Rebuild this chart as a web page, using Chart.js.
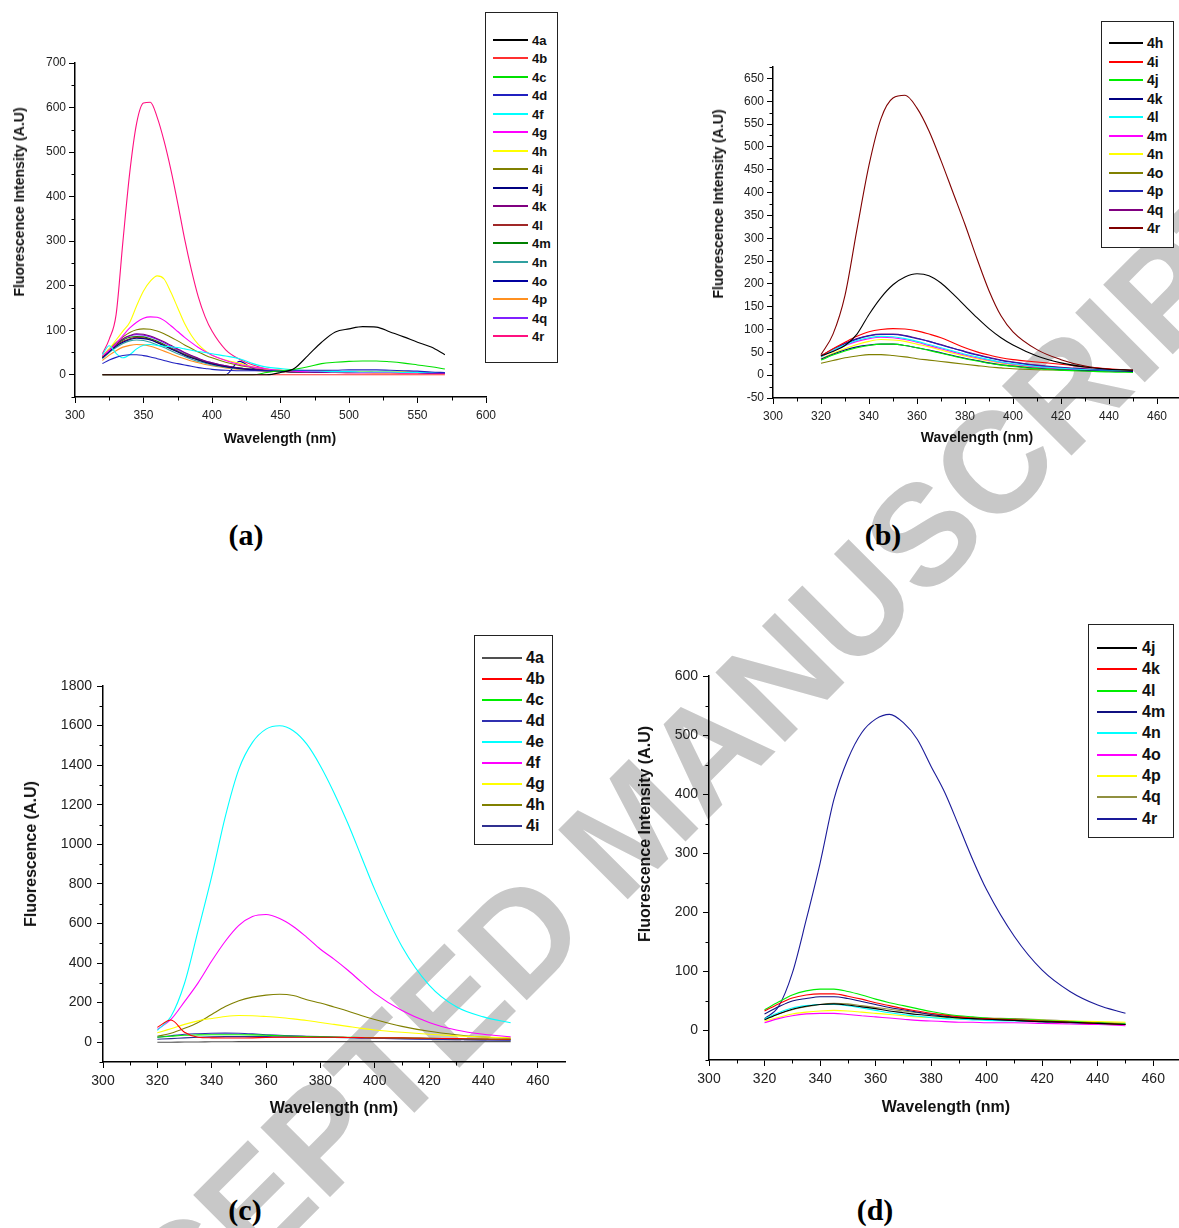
<!DOCTYPE html>
<html><head><meta charset="utf-8">
<script src="https://cdn.jsdelivr.net/npm/chart.js@4.4.1/dist/chart.umd.min.js"></script>
<style>
html,body{margin:0;padding:0;background:#fff;}
body{width:1179px;height:1228px;overflow:hidden;position:relative;font-family:'Liberation Sans',Arial,sans-serif;}
#wm{position:absolute;left:631px;top:826px;transform:translate(-50%,-50%) rotate(-45deg);font:bold 143px 'Liberation Sans',Arial,sans-serif;color:#c8c8c8;white-space:nowrap;z-index:0;line-height:1;}
canvas{position:absolute;z-index:1;}
.t{position:absolute;z-index:2;white-space:nowrap;font-weight:bold;color:#111;line-height:1;transform:translate(-50%,-50%);}
.yt{transform:translate(-50%,-50%) rotate(-90deg);}
.lg{position:absolute;z-index:3;border:1px solid #222;background:#fff;box-sizing:border-box;}
.ll{position:absolute;height:2px;}
.lt{position:absolute;font-weight:bold;line-height:1;transform:translateY(-50%);color:#111;white-space:nowrap;}
.pl{position:absolute;z-index:2;font:bold 30px 'Liberation Serif','Times New Roman',serif;transform:translate(-50%,-50%);line-height:1;white-space:nowrap;}
</style></head><body>
<div id="wm">ACCEPTED MANUSCRIPT</div>
<script>
// ---------------- DATA ----------------
const wlA = [320,325,330,335,340,345,350,355,360,365,370,375,380,385,390,395,400,410,420,430,440,450,460,470,480,490,500,510,520,530,540,550,560,570];
const namesA = ['4a','4b','4c','4d','4f','4g','4h','4i','4j','4k','4l','4m','4n','4o','4p','4q','4r'];
const a4a = [0,0,0,0,0,0,0,0,0,0,0,0,0,0,0,0,0,0,0,0,0,5,14,43,73,96,103,108,107,96,85,73,62,45];
const a4b = [0,0,0,0,0,0,0,0,0,0,0,0,0,0,0,0,0,0,0,0,0,0,0,0,0,0,0,0,0,0,0,0,0,0];
const a4c = [0,0,0,0,0,0,0,0,0,0,0,0,0,0,0,0,0,0,0,0,5,9,12,18,25,28,30,31,31,29,26,22,18,13];
const a4d = [25,33,39,43,45,45,43,40,36,32,28,25,22,19,16,14,12,10,9,9,9,9,10,10,10,10,11,11,11,10,9,8,6,5];
const a4f = [45,65,48,38,45,58,66,68,66,64,63,61,58,55,52,50,47,42,36,25,17,14,11,9,8,7,7,6,6,6,5,5,5,5];
const a4g = [42,55,70,88,105,118,127,130,129,122,110,97,84,72,61,52,44,32,23,17,13,10,8,7,7,6,6,5,5,5,4,4,4,4];
const a4h = [42,58,78,98,118,155,188,210,222,215,185,150,115,88,68,54,44,33,26,18,13,10,9,8,8,7,7,7,6,6,6,5,5,5];
const a4i = [42,58,72,85,95,101,103,102,98,92,84,76,67,59,51,44,38,28,21,16,12,10,9,8,8,7,7,7,6,6,6,5,5,5];
const a4j = [38,52,64,73,79,82,81,78,72,65,58,51,44,38,33,28,24,18,14,11,9,8,7,7,6,6,6,6,5,5,5,5,4,4];
const a4k = [40,56,70,81,88,92,91,87,81,74,66,58,50,43,37,31,27,20,15,12,10,8,7,7,6,6,6,6,5,5,5,5,4,4];
const a4l = [38,53,66,75,81,84,83,79,73,66,59,52,45,39,33,29,25,19,14,11,9,8,7,7,6,6,6,6,5,5,5,5,4,4];
const a4m = [40,55,68,78,84,86,85,81,75,68,60,53,46,40,34,29,25,19,15,12,10,8,7,7,6,6,6,6,5,5,5,5,4,4];
const a4n = [36,50,61,70,76,78,77,73,67,61,54,47,41,35,30,26,22,17,13,10,9,8,7,7,6,6,6,6,5,5,5,5,4,4];
const a4o = [0,0,0,0,0,0,0,0,0,0,0,0,0,0,0,0,0,0,30,14,10,8,7,7,6,6,6,6,5,5,5,5,4,4];
const a4p = [32,44,54,62,66,68,67,64,59,53,47,41,36,31,27,23,20,15,12,10,8,7,6,6,5,5,5,5,4,4,4,3,3,3];
const a4q = [40,55,69,80,87,90,89,85,79,72,64,56,49,42,36,31,27,20,15,12,10,8,7,7,6,6,6,6,5,5,5,5,4,4];
const a4r = [47,80,135,300,455,565,610,612,578,525,460,385,305,235,175,130,98,56,35,22,13,8,6,5,5,5,4,4,4,4,3,3,3,3];

const wl = [320,325,330,335,340,345,350,355,360,365,370,375,380,385,390,395,400,410,420,430,440,450];

const namesB = ['4h','4i','4j','4k','4l','4m','4n','4o','4p','4q','4r'];
const b4h = [42,52,65,90,133,170,198,215,222,218,202,178,152,126,102,82,66,42,27,18,13,11];
const b4i = [42,58,72,85,95,100,102,101,97,90,82,71,60,51,44,38,34,29,24,18,14,11];
const b4j = [33,44,53,60,65,68,68,65,60,54,48,42,36,31,26,22,19,14,11,9,7,6];
const b4k = [35,46,55,62,66,68,68,65,60,55,49,43,37,32,27,23,20,15,12,10,9,8];
const b4l = [40,55,66,76,82,85,84,80,74,67,60,53,46,40,34,29,25,19,15,12,10,9];
const b4m = [40,54,65,74,80,83,82,78,72,65,58,51,44,38,33,28,24,18,14,11,9,8];
const b4n = [36,48,58,67,74,78,77,74,68,62,55,48,42,36,31,26,22,17,13,11,9,8];
const b4o = [26,32,38,42,45,45,43,40,36,33,30,27,24,21,18,16,14,12,11,10,10,10];
const b4p = [42,57,69,79,86,89,89,86,80,74,66,59,51,44,38,32,28,21,16,13,11,10];
const b4q = [42,57,70,80,87,90,90,87,81,74,67,59,52,45,39,33,29,22,17,14,11,10];
const b4r = [45,90,175,320,460,562,607,613,585,535,470,400,330,255,185,130,95,56,34,20,13,9];

const namesC = ['4a','4b','4c','4d','4e','4f','4g','4h','4i'];
const c4a = [0,0,1,1,2,2,3,3,3,3,3,3,3,3,3,3,3,3,3,3,3,3];
const c4b = [75,112,50,25,22,21,21,22,24,25,25,25,25,25,24,23,22,22,20,18,16,15];
const c4c = [25,30,35,37,38,38,38,37,35,33,30,28,27,26,25,24,23,22,20,18,16,15];
const c4d = [25,33,40,43,45,46,45,42,38,35,32,30,28,26,24,22,20,17,15,13,11,10];
const c4e = [60,130,298,565,838,1140,1380,1515,1582,1599,1574,1506,1396,1261,1109,940,771,484,289,179,128,98];
const c4f = [65,115,205,300,410,510,590,635,645,625,585,530,470,420,365,305,247,160,100,62,40,27];
const c4g = [48,68,90,108,120,130,135,134,130,125,118,110,100,90,80,70,62,50,40,32,26,22];
const c4h = [30,45,70,100,140,180,210,228,238,242,236,215,198,178,158,135,115,80,55,38,26,20];
const c4i = [15,18,22,25,27,28,28,28,28,27,27,26,25,24,23,22,21,19,17,15,13,12];

const namesD = ['4j','4k','4l','4m','4n','4o','4p','4q','4r'];
const d4j = [18,28,36,41,44,45,43,40,37,33,30,27,25,23,21,20,19,17,15,14,12,10];
const d4k = [33,45,55,60,62,62,58,53,47,42,37,33,29,26,23,21,20,18,16,14,12,10];
const d4l = [35,48,60,67,70,70,66,60,53,47,42,37,32,28,25,23,21,19,17,15,13,11];
const d4m = [28,40,50,54,57,57,54,49,44,39,35,31,27,24,22,20,19,17,15,13,12,10];
const d4n = [20,30,38,42,44,44,42,38,34,30,27,24,22,20,19,18,17,16,15,14,12,11];
const d4o = [13,20,25,28,29,29,27,25,23,21,19,17,16,15,14,14,13,13,12,11,10,8];
const d4p = [16,22,28,31,33,34,33,31,29,27,25,23,22,21,20,20,19,18,17,16,15,14];
const d4q = [20,28,35,40,44,46,45,42,39,36,33,30,28,26,24,22,21,20,18,16,14,12];
const d4r = [20,40,97,187,283,391,459,504,527,535,521,493,447,402,346,289,238,159,102,66,43,29];

// tick labels / tick positions
const xTicksA = [300,350,400,450,500,550,600];
const xMinorA = [325,375,425,475,525,575];
const yTicksA = [0,100,200,300,400,500,600,700];
const yMinorA = [-50,50,150,250,350,450,550,650];
const xTicks = [300,320,340,360,380,400,420,440,460];
const xMinor = [310,330,350,370,390,410,430,450];
const yTicksB = [-50,0,50,100,150,200,250,300,350,400,450,500,550,600,650];
const yMinorB = [-25,25,75,125,175,225,275,325,375,425,475,525,575,625,675];
const yTicksC = [0,200,400,600,800,1000,1200,1400,1600,1800];
const yMinorC = [-100,100,300,500,700,900,1100,1300,1500,1700];
const yTicksD = [0,100,200,300,400,500,600];
const yMinorD = [-50,50,150,250,350,450,550];

// ---------------- STYLE ----------------
const colorsA = ['#000000','#ff3030','#00e000','#2020c0','#00ffff','#ff00ff','#ffff00','#808000','#000080','#800080','#a02828','#008000','#30a0a0','#0000a0','#ff9020','#8020ff','#ff1080'];
const colorsB = ['#000000','#ff0000','#00ee00','#000080','#00ffff','#ff00ff','#ffff00','#808000','#2020b0','#800080','#800000'];
const colorsC = ['#505050','#ff0000','#00ee00','#3030b0','#00ffff','#ff00ff','#ffff00','#808000','#303090'];
const colorsD = ['#000000','#ff0000','#00ee00','#101080','#00ffff','#ff00ff','#ffff00','#909040','#1a1a99'];

Chart.defaults.font.family = "'Liberation Sans', Arial, sans-serif";
Chart.defaults.color = '#222';

const minorTicks = {
  id: 'minorTicks',
  afterDraw(chart, args, o) {
    const ctx = chart.ctx, xs = chart.scales.x, ys = chart.scales.y;
    ctx.save();
    ctx.strokeStyle = '#000'; ctx.lineWidth = 1;
    (o.x || []).forEach(v => {
      const px = Math.round(xs.getPixelForValue(v)) + 0.5;
      ctx.beginPath(); ctx.moveTo(px, xs.top); ctx.lineTo(px, xs.top + o.len); ctx.stroke();
    });
    (o.y || []).forEach(v => {
      const py = Math.round(ys.getPixelForValue(v)) + 0.5;
      ctx.beginPath(); ctx.moveTo(ys.right, py); ctx.lineTo(ys.right - o.len, py); ctx.stroke();
    });
    ctx.restore();
  }
};

function build(p) {
  const g = p.geom;
  const W = g.right - g.left + 110, H = g.bottom - g.top + 70;
  const cv = document.createElement('canvas');
  cv.width = W; cv.height = H;
  cv.style.left = (g.left - 80) + 'px'; cv.style.top = (g.top - 20) + 'px';
  cv.style.width = W + 'px'; cv.style.height = H + 'px';
  document.body.appendChild(cv);
  const datasets = p.names.map((n, i) => ({
    label: n,
    data: p.xs.map((x, j) => ({ x: x, y: p.values[i][j] })),
    borderColor: p.colors[i], backgroundColor: p.colors[i],
    borderWidth: 1.1, pointRadius: 0, fill: false,
    cubicInterpolationMode: 'monotone'
  }));
  const axisCommon = {
    grid: { display: true, drawOnChartArea: false, drawTicks: true, tickLength: 6, color: '#000', lineWidth: 1 },
    border: { display: true, color: '#000', width: 1.5 }
  };
  new Chart(cv, {
    type: 'line',
    data: { datasets },
    options: {
      responsive: false, animation: false, devicePixelRatio: 1,
      layout: { padding: { left: 10, top: 20, right: 30, bottom: 10 } },
      plugins: { legend: { display: false }, tooltip: { enabled: false },
        minorTicks: { x: p.xMinor, y: p.yMinor, len: 3.5 } },
      scales: {
        x: Object.assign({
          type: 'linear', min: p.xMin, max: p.xMax,
          afterFit: s => { s.height = 40; },
          afterBuildTicks: s => { s.ticks = p.xTicks.map(v => ({ value: v })); },
          ticks: { font: { size: p.fs }, color: '#222', padding: 5, maxRotation: 0, autoSkip: false, callback: v => String(v) }
        }, axisCommon),
        y: Object.assign({
          type: 'linear', min: p.yMin, max: p.yMax,
          afterFit: s => { s.width = 70; },
          afterBuildTicks: s => { s.ticks = p.yTicks.map(v => ({ value: v })); },
          ticks: { font: { size: p.fs }, color: '#222', padding: p.yPad, autoSkip: false, callback: v => String(v) }
        }, axisCommon)
      }
    },
    plugins: [minorTicks]
  });

  // legend
  const L = p.leg;
  const box = document.createElement('div'); box.className = 'lg';
  Object.assign(box.style, { left: L.x + 'px', top: L.y + 'px', width: L.w + 'px', height: L.h + 'px' });
  p.names.forEach((n, i) => {
    const cy = L.first + i * L.step;
    const line = document.createElement('div'); line.className = 'll';
    Object.assign(line.style, { left: L.lx + 'px', top: Math.round(cy - 1) + 'px', width: L.lw + 'px', background: p.colors[i] });
    const t = document.createElement('div'); t.className = 'lt'; t.textContent = n;
    Object.assign(t.style, { left: L.tx + 'px', top: cy + 'px', fontSize: L.fs + 'px' });
    box.appendChild(line); box.appendChild(t);
  });
  document.body.appendChild(box);

  // titles
  const yt = document.createElement('div'); yt.className = 't yt'; yt.textContent = p.yTitle;
  Object.assign(yt.style, { left: p.yT[0] + 'px', top: p.yT[1] + 'px', fontSize: p.tfs + 'px' });
  const xt = document.createElement('div'); xt.className = 't'; xt.textContent = p.xTitle;
  Object.assign(xt.style, { left: p.xT[0] + 'px', top: p.xT[1] + 'px', fontSize: p.tfs + 'px' });
  const pl = document.createElement('div'); pl.className = 'pl'; pl.textContent = p.label;
  Object.assign(pl.style, { left: p.lab[0] + 'px', top: p.lab[1] + 'px' });
  document.body.appendChild(yt); document.body.appendChild(xt); document.body.appendChild(pl);
}

build({
  geom: { left: 75, right: 486, top: 63, bottom: 397 },
  xs: wlA, names: namesA, colors: colorsA,
  values: [a4a,a4b,a4c,a4d,a4f,a4g,a4h,a4i,a4j,a4k,a4l,a4m,a4n,a4o,a4p,a4q,a4r],
  xMin: 300, xMax: 600, yMin: -50, yMax: 700,
  xTicks: xTicksA, xMinor: xMinorA, yTicks: yTicksA, yMinor: yMinorA,
  fs: 12, yPad: 3, tfs: 14,
  yTitle: 'Fluorescence Intensity (A.U)', yT: [19, 202],
  xTitle: 'Wavelength (nm)', xT: [280, 438],
  label: '(a)', lab: [246, 535],
  leg: { x: 485, y: 12, w: 73, h: 351, first: 26.5, step: 18.54, lx: 7, lw: 35, tx: 46, fs: 13 }
});
build({
  geom: { left: 773, right: 1181, top: 67, bottom: 398 },
  xs: wl, names: namesB, colors: colorsB,
  values: [b4h,b4i,b4j,b4k,b4l,b4m,b4n,b4o,b4p,b4q,b4r],
  xMin: 300, xMax: 470, yMin: -50, yMax: 675,
  xTicks: xTicks, xMinor: xMinor, yTicks: yTicksB, yMinor: yMinorB,
  fs: 12, yPad: 3, tfs: 14,
  yTitle: 'Fluorescence Intensity (A.U)', yT: [718, 204],
  xTitle: 'Wavelength (nm)', xT: [977, 437],
  label: '(b)', lab: [883, 535],
  leg: { x: 1101, y: 21, w: 73, h: 227, first: 21, step: 18.5, lx: 7, lw: 34, tx: 45, fs: 14 }
});
build({
  geom: { left: 103, right: 565, top: 686, bottom: 1062 },
  xs: wl, names: namesC, colors: colorsC,
  values: [c4a,c4b,c4c,c4d,c4e,c4f,c4g,c4h,c4i],
  xMin: 300, xMax: 470, yMin: -100, yMax: 1800,
  xTicks: xTicks, xMinor: xMinor, yTicks: yTicksC, yMinor: yMinorC,
  fs: 14, yPad: 5, tfs: 16,
  yTitle: 'Fluorescence (A.U)', yT: [31, 854],
  xTitle: 'Wavelength (nm)', xT: [334, 1108],
  label: '(c)', lab: [245, 1210],
  leg: { x: 474, y: 635, w: 79, h: 210, first: 22, step: 20.96, lx: 7, lw: 40, tx: 51, fs: 16 }
});
build({
  geom: { left: 709, right: 1181, top: 676, bottom: 1060 },
  xs: wl, names: namesD, colors: colorsD,
  values: [d4j,d4k,d4l,d4m,d4n,d4o,d4p,d4q,d4r],
  xMin: 300, xMax: 470, yMin: -50, yMax: 600,
  xTicks: xTicks, xMinor: xMinor, yTicks: yTicksD, yMinor: yMinorD,
  fs: 14, yPad: 5, tfs: 16,
  yTitle: 'Fluorescence Intensity (A.U)', yT: [645, 834],
  xTitle: 'Wavelength (nm)', xT: [946, 1107],
  label: '(d)', lab: [875, 1210],
  leg: { x: 1088, y: 624, w: 86, h: 214, first: 23, step: 21.34, lx: 8, lw: 40, tx: 53, fs: 16 }
});
</script>
</body></html>
